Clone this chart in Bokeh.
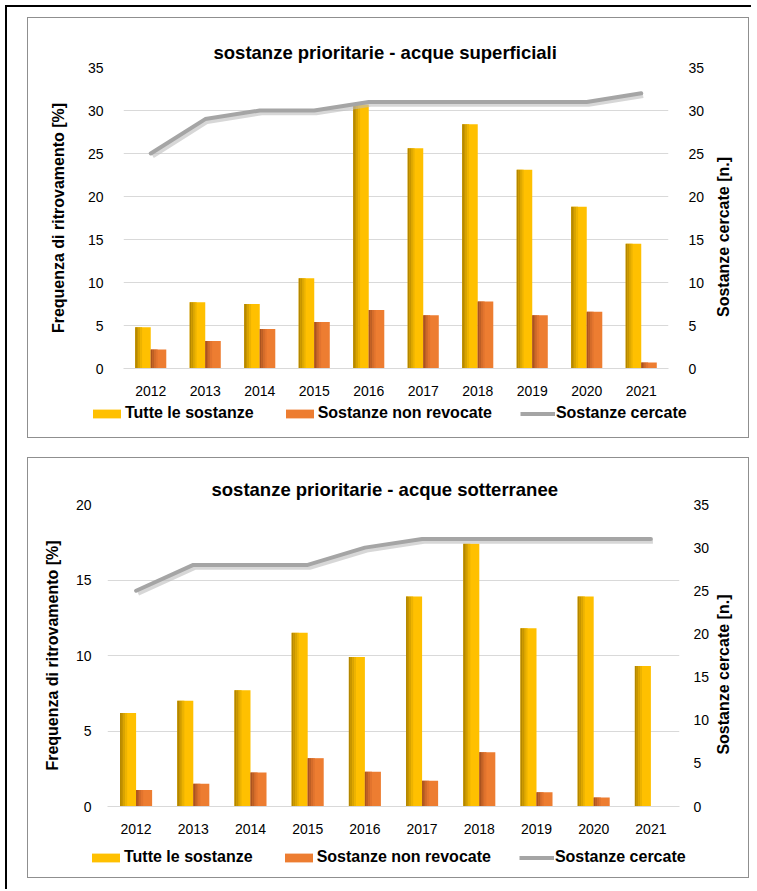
import math
from bokeh.plotting import figure
from bokeh.models import (Range1d, LinearAxis, FixedTicker, Legend, LegendItem,
                          ColumnDataSource, Spacer)
from bokeh.layouts import column, row
from bokeh.transform import dodge
from bokeh.core.properties import value
from bokeh.embed import file_html
from bokeh.resources import INLINE

# ---------------- data ----------------
years = ["2012", "2013", "2014", "2015", "2016", "2017", "2018", "2019", "2020", "2021"]

sup_tutte = [4.8, 7.7, 7.5, 10.5, 30.7, 25.6, 28.4, 23.1, 18.8, 14.5]
sup_nonrev = [2.2, 3.2, 4.6, 5.4, 6.8, 6.2, 7.8, 6.2, 6.6, 0.7]
sup_cercate = [25, 29, 30, 30, 31, 31, 31, 31, 31, 32]

sott_tutte = [6.2, 7.0, 7.7, 11.5, 9.9, 13.9, 17.4, 11.8, 13.9, 9.3]
sott_nonrev = [1.1, 1.5, 2.25, 3.2, 2.3, 1.7, 3.6, 0.95, 0.6, 0.0]
sott_cercate = [25, 28, 28, 28, 30, 31, 31, 31, 31, 31]

title_sup = "sostanze prioritarie - acque superficiali"
title_sott = "sostanze prioritarie - acque sotterranee"
left_label = "Frequenza di ritrovamento [%]"
right_label = "Sostanze cercate [n.]"
legend_labels = ["Tutte le sostanze", "Sostanze non revocate", "Sostanze cercate"]

# ---------------- style ----------------
FONT = "Liberation Sans"
YEL = "#FFC000"
YEL_SH = ["#B38600", "#C69500", "#D9A400", "#EDB300"]
ORA = "#ED7D31"
ORA_SH = ["#A9531F", "#BD5F25", "#D26B2A", "#E2742E"]
GRID = "#D9D9D9"
LINE = "#A5A5A5"
BOX = "#8f8f8f"
MAIN_H = 380
LEG_H = 39


def style_axis(ax, standoff):
    ax.axis_line_color = None
    ax.major_tick_line_color = None
    ax.minor_tick_line_color = None
    ax.major_label_text_font = FONT
    ax.major_label_text_font_size = "14px"
    ax.major_label_text_color = "#000000"
    ax.major_label_standoff = standoff


def make_chart(title, tutte, nonrev, cercate, left_max, cfg):
    src = ColumnDataSource(dict(year=years, tutte=tutte, nonrev=nonrev, cercate=cercate))
    p = figure(width=cfg["pw"], height=MAIN_H, x_range=years, y_range=Range1d(0, left_max),
               output_backend="svg", toolbar_location=None,
               min_border_left=cfg["bl"], min_border_right=cfg["br"],
               min_border_top=cfg["bt"], min_border_bottom=cfg["bb"])
    p.outline_line_color = None
    p.background_fill_color = "white"
    p.border_fill_color = "white"

    p.title.text = title
    p.title.align = "left"
    p.title.offset = cfg["toff"]
    p.title.text_font = FONT
    p.title.text_font_size = "18.5px"
    p.title.text_font_style = "bold"
    p.title.text_color = "#000000"
    p.title.standoff = 10

    p.extra_y_ranges = {"right": Range1d(0, 35)}

    w = cfg["w"]
    off = cfg["off"]
    p.vbar(x=dodge("year", -off, range=p.x_range), top="tutte", width=w,
           source=src, fill_color=YEL, line_color=None)
    for i, c in enumerate(YEL_SH):
        p.vbar(x=dodge("year", -off - w / 2 + (i + 0.5) * w * 0.11, range=p.x_range),
               top="tutte", width=w * 0.115, source=src, fill_color=c, line_color=None)
    p.vbar(x=dodge("year", off, range=p.x_range), top="nonrev", width=w,
           source=src, fill_color=ORA, line_color=None)
    for i, c in enumerate(ORA_SH):
        p.vbar(x=dodge("year", off - w / 2 + (i + 0.5) * w * 0.11, range=p.x_range),
               top="nonrev", width=w * 0.115, source=src, fill_color=c, line_color=None)

    p.line(x=dodge("year", 0.035, range=p.x_range), y=dodge("cercate", -0.3),
           source=src, y_range_name="right", line_color="#BDBDBD", line_alpha=0.6,
           line_width=4.5, line_join="round")
    p.line(x="year", y="cercate", source=src, y_range_name="right",
           line_color=LINE, line_width=4, line_join="round", line_cap="round")

    p.xgrid.grid_line_color = None
    p.ygrid.grid_line_color = GRID
    p.ygrid.ticker = FixedTicker(ticks=list(range(0, left_max + 1, 5)))

    xa = p.xaxis[0]
    style_axis(xa, 11)
    xa.axis_line_color = GRID

    ya = p.yaxis[0]
    ya.ticker = FixedTicker(ticks=list(range(0, left_max + 1, 5)))
    style_axis(ya, cfg["ls"])
    ya.axis_label = left_label
    ya.axis_label_text_font = FONT
    ya.axis_label_text_font_size = "16px"
    ya.axis_label_text_font_style = "bold"
    ya.axis_label_text_color = "#000000"
    ya.axis_label_standoff = cfg["las"]

    ra = LinearAxis(y_range_name="right", ticker=FixedTicker(ticks=list(range(0, 36, 5))))
    style_axis(ra, cfg["rs"])
    p.add_layout(ra, "right")

    # right axis title (reads bottom-to-top)
    rt_w = 720 - cfg["pw"]
    prt = figure(width=rt_w, height=MAIN_H, x_range=Range1d(0, rt_w),
                 y_range=Range1d(0, MAIN_H), x_axis_type=None, y_axis_type=None,
                 output_backend="svg", toolbar_location=None, min_border=0)
    prt.outline_line_color = None
    prt.grid.grid_line_color = None
    prt.text(x=[cfg["rtx"]], y=[MAIN_H - 214], text=[right_label], angle=math.pi / 2,
             text_align="center", text_baseline="middle", text_font=value(FONT),
             text_font_size="16px", text_font_style="bold", text_color="#000000")

    # legend strip (proxy glyphs sit outside the visible range; only the swatches show)
    pl = figure(width=720, height=LEG_H, x_range=Range1d(0, 720), y_range=Range1d(0, LEG_H),
                x_axis_type=None, y_axis_type=None, output_backend="svg",
                toolbar_location=None, min_border=0)
    pl.outline_line_color = None
    pl.grid.grid_line_color = None
    g1 = pl.vbar(x=[-100], top=[0], width=1, fill_color=YEL, line_color=None)
    g2 = pl.vbar(x=[-100], top=[0], width=1, fill_color=ORA, line_color=None)
    g3 = pl.line(x=[-100, -90], y=[0, 0], line_color=LINE, line_width=4)
    legend = Legend(items=[LegendItem(label=legend_labels[0], renderers=[g1]),
                           LegendItem(label=legend_labels[1], renderers=[g2]),
                           LegendItem(label=legend_labels[2], renderers=[g3])],
                    orientation="horizontal", location=cfg["lloc"],
                    glyph_width=35, glyph_height=11, label_standoff=1, spacing=28,
                    padding=0, margin=0, border_line_color=None,
                    background_fill_alpha=0)
    legend.label_text_font = FONT
    legend.label_text_font_size = "16px"
    legend.label_text_font_style = "bold"
    legend.label_text_color = "#000000"
    pl.add_layout(legend, "center")

    content = column(row(p, prt), pl)
    gl = {"background-color": BOX}
    box = column(Spacer(width=722, height=1, styles=gl),
                 row(Spacer(width=1, height=MAIN_H + LEG_H, styles=gl), content,
                     Spacer(width=1, height=MAIN_H + LEG_H, styles=gl)),
                 Spacer(width=722, height=1, styles=gl))
    return box


cfg1 = dict(pw=680, bl=95, br=40, bt=49, bb=29, w=0.285, off=0.1425, toff=90,
            ls=14, las=18, rs=14, rtx=15, lloc=(61, 15))
cfg2 = dict(pw=684, bl=79, br=31, bt=46, bb=32, w=0.28, off=0.14, toff=104,
            ls=10, las=12, rs=8, rtx=11, lloc=(60, 11))

b1 = make_chart(title_sup, sup_tutte, sup_nonrev, sup_cercate, 35, cfg1)
b2 = make_chart(title_sott, sott_tutte, sott_nonrev, sott_cercate, 20, cfg2)

BLACK = {"background-color": "#000000"}
hline = Spacer(width=746, height=2, styles=BLACK)
vline = Spacer(width=2, height=882, styles=BLACK)

body = column(Spacer(width=742, height=10),
              row(Spacer(width=20, height=421), b1),
              Spacer(width=742, height=19),
              row(Spacer(width=20, height=421), b2))

layout = column(Spacer(width=751, height=5),
                row(Spacer(width=5, height=2), hline),
                row(Spacer(width=5, height=882), vline, body))

open("out.html", "w").write(file_html(layout, INLINE))
